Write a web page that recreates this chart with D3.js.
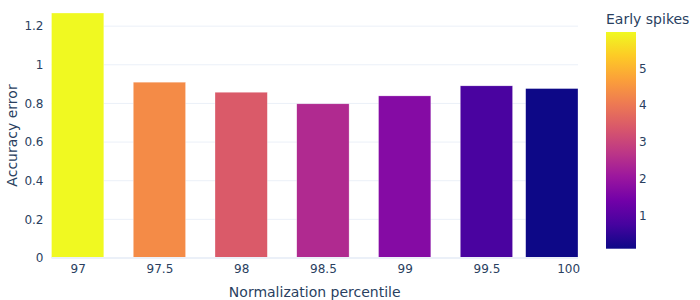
<!DOCTYPE html>
<html>
<head>
<meta charset="utf-8">
<script src="https://cdn.jsdelivr.net/npm/d3@7"></script>
<style>
  body { margin: 0; background: #fff; }
  text { font-family: "DejaVu Sans", Verdana, sans-serif; fill: #2a3f5f; }
</style>
</head>
<body>
<script>
// Data
const percentiles = [97, 97.5, 98, 98.5, 99, 99.5, 99.9];
const accuracyError = [1.268, 0.910, 0.858, 0.798, 0.839, 0.891, 0.877];
const earlySpikes = [5.98, 4.34, 3.43, 2.46, 1.71, 0.82, 0.114];
const xTicks = [97, 97.5, 98, 98.5, 99, 99.5, 100];
const yTicks = [0, 0.2, 0.4, 0.6, 0.8, 1, 1.2];
const cbTicks = [1, 2, 3, 4, 5];
const plasma = ['#0d0887', '#46039f', '#7201a8', '#9c179e', '#bd3786',
                '#d8576b', '#ed7953', '#fb9f3a', '#fdca26', '#f0f921'];

const W = 700, H = 300;
const plot = { left: 51.5, right: 578, top: 13, bottom: 258 };
const halfW = 0.16; // bar half-width in data units

const svg = d3.select('body').append('svg')
    .attr('width', W)
    .attr('height', H);

const x = d3.scaleLinear()
    .domain([percentiles[0] - halfW, percentiles[percentiles.length - 1] + halfW])
    .range([plot.left, plot.right]);

const y = d3.scaleLinear()
    .domain([0, 1.268])
    .range([plot.bottom, plot.top]);

const cmin = d3.min(earlySpikes), cmax = d3.max(earlySpikes);
const color = d3.scaleLinear()
    .domain(plasma.map((c, i) => cmin + (cmax - cmin) * i / (plasma.length - 1)))
    .range(plasma)
    .interpolate(d3.interpolateRgb);

// gridlines
svg.append('g')
    .selectAll('line')
    .data(yTicks.filter(d => d > 0))
    .enter().append('line')
    .attr('x1', plot.left)
    .attr('x2', plot.right)
    .attr('y1', d => y(d))
    .attr('y2', d => y(d))
    .attr('stroke', '#ebf0f8')
    .attr('stroke-width', 1);

// bars
const bars = percentiles.map((p, i) => ({ p: p, v: accuracyError[i], c: earlySpikes[i] }));
svg.append('g')
    .selectAll('rect')
    .data(bars)
    .enter().append('rect')
    .attr('x', d => x(d.p - halfW))
    .attr('width', d => x(d.p + halfW) - x(d.p - halfW))
    .attr('y', d => y(d.v))
    .attr('height', d => y(0) - y(d.v))
    .attr('fill', d => color(d.c))
    .attr('stroke', 'rgba(255,255,255,0.6)')
    .attr('stroke-width', 0.5);

// zero line
svg.append('line')
    .attr('x1', plot.left)
    .attr('x2', plot.right)
    .attr('y1', y(0))
    .attr('y2', y(0))
    .attr('stroke', '#ebf0f8')
    .attr('stroke-width', 2);

// y axis
const yAxis = svg.append('g')
    .attr('transform', `translate(${plot.left},0)`)
    .call(d3.axisLeft(y).tickValues(yTicks).tickSize(0).tickPadding(8).tickFormat(d3.format('~g')));
yAxis.select('.domain').remove();
yAxis.selectAll('text').style('font-size', '12px').attr('fill', '#2a3f5f');

// x axis
const xAxis = svg.append('g')
    .attr('transform', `translate(0,${plot.bottom})`)
    .call(d3.axisBottom(x).tickValues(xTicks).tickSize(0).tickPadding(6).tickFormat(d3.format('~g')));
xAxis.select('.domain').remove();
xAxis.selectAll('text').style('font-size', '12px').attr('fill', '#2a3f5f');

// axis titles
svg.append('text')
    .attr('x', (plot.left + plot.right) / 2)
    .attr('y', 297)
    .attr('text-anchor', 'middle')
    .style('font-size', '14px')
    .text('Normalization percentile');

svg.append('text')
    .attr('transform', `translate(17,${(plot.top + plot.bottom) / 2}) rotate(-90)`)
    .attr('text-anchor', 'middle')
    .style('font-size', '14px')
    .text('Accuracy error');

// colorbar
const cb = { x: 606, w: 30, top: 32, bottom: 248.7 };
const cy = d3.scaleLinear().domain([cmin, cmax]).range([cb.bottom, cb.top]);

const defs = svg.append('defs');
const grad = defs.append('linearGradient')
    .attr('id', 'cbgrad')
    .attr('x1', 0).attr('y1', 1)
    .attr('x2', 0).attr('y2', 0);
grad.selectAll('stop')
    .data(plasma)
    .enter().append('stop')
    .attr('offset', (d, i) => i / (plasma.length - 1))
    .attr('stop-color', d => d);

svg.append('rect')
    .attr('x', cb.x)
    .attr('y', cb.top)
    .attr('width', cb.w)
    .attr('height', cb.bottom - cb.top)
    .attr('fill', 'url(#cbgrad)');

const cbAxis = svg.append('g')
    .attr('transform', `translate(${cb.x + cb.w},0)`)
    .call(d3.axisRight(cy).tickValues(cbTicks).tickSize(0).tickPadding(3).tickFormat(d3.format('~g')));
cbAxis.select('.domain').remove();
cbAxis.selectAll('text').style('font-size', '12px').attr('fill', '#2a3f5f');

svg.append('text')
    .attr('x', cb.x)
    .attr('y', 24)
    .style('font-size', '14px')
    .text('Early spikes');
</script>
</body>
</html>
